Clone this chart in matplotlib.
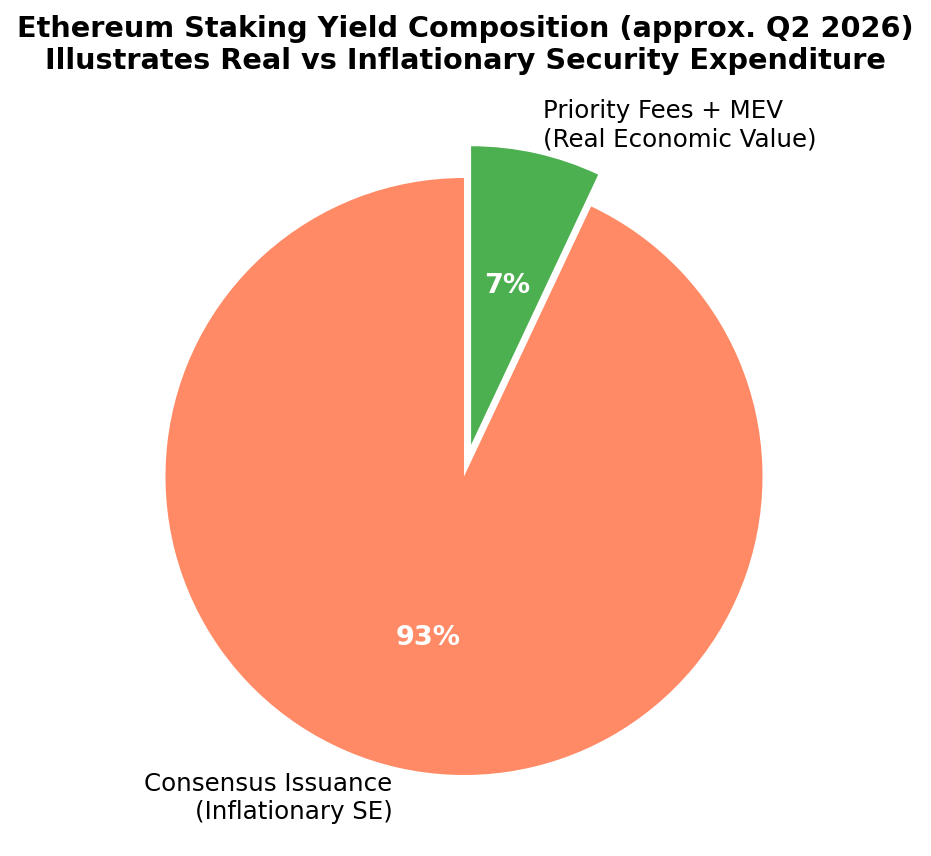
import matplotlib
matplotlib.use("Agg")
import matplotlib.pyplot as plt

labels = ["Consensus Issuance\n(Inflationary SE)", "Priority Fees + MEV\n(Real Economic Value)"]
values = [93, 7]
colors = ["#FF8A65", "#4CAF50"]
explode = [0, 0.109]

W, H = 931, 857
fig = plt.figure(figsize=(W/150, H/150), dpi=150)
r_px = 298.5
cx, cy = 464, H - 477.5
ax = fig.add_axes([(cx - 1.25*r_px)/W, (cy - 1.25*r_px)/H, 2.5*r_px/W, 2.5*r_px/H])

wedges, texts, autotexts = ax.pie(
    values, labels=labels, colors=colors, explode=explode,
    startangle=90, autopct="%1.0f%%", pctdistance=0.55, labeldistance=1.1,
    textprops=dict(fontsize=11.75),
)
for t in autotexts:
    t.set_color("white")
    t.set_fontweight("bold")
    t.set_fontsize(13)
ax.set_xlim(-1.25, 1.25)
ax.set_ylim(-1.25, 1.25)
ax.set_aspect("equal")

fig.text(0.5, 1 - 45/H,
         "Ethereum Staking Yield Composition (approx. Q2 2026)\nIllustrates Real vs Inflationary Security Expenditure",
         ha="center", va="center", fontsize=13.8, fontweight="bold")

fig.savefig("out.png", dpi=150)
